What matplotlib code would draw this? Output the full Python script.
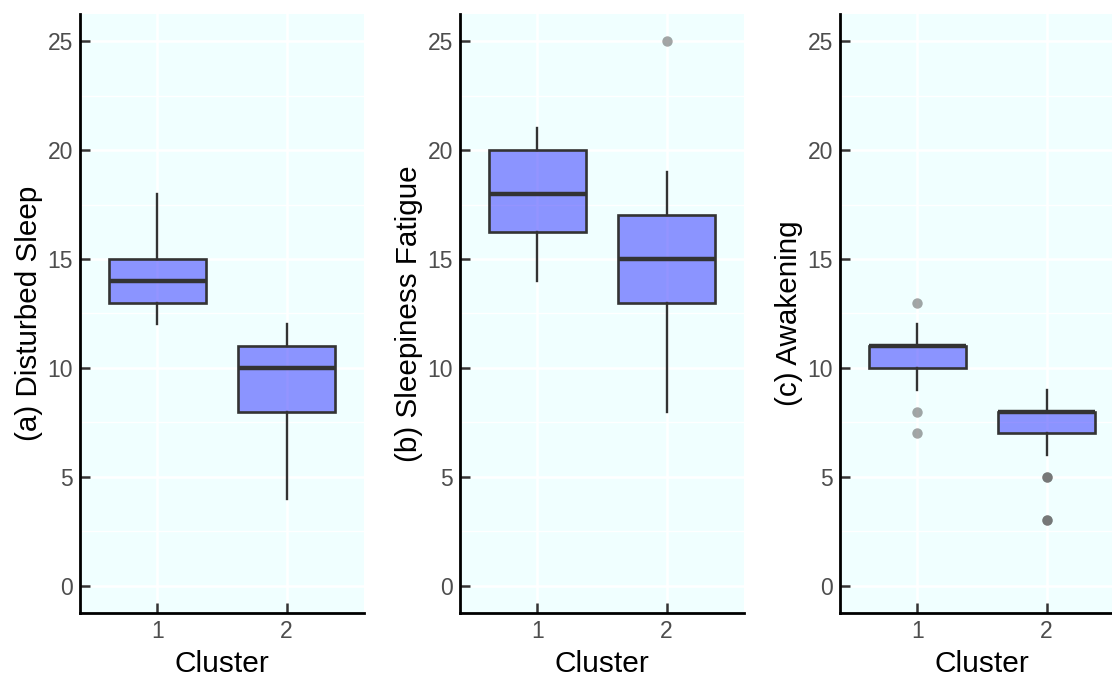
import matplotlib
matplotlib.use("Agg")
import matplotlib.pyplot as plt
from matplotlib.ticker import MultipleLocator

plt.rcParams['font.family'] = ['Liberation Sans', 'DejaVu Sans']

# box statistics: (whislo, q1, med, q3, whishi)
clusters = [1, 2]
labels = ["(a) Disturbed Sleep", "(b) Sleepiness Fatigue", "(c) Awakening"]

sleep_stats = [(12, 13, 14, 15, 18), (4, 8, 10, 11, 12)]
sleep_out = [[], []]

fatigue_stats = [(14, 16.25, 18, 20, 21), (8, 13, 15, 17, 19)]
fatigue_out = [[], [25]]

awake_stats = [(9, 10, 11, 11, 12), (6, 7, 8, 8, 9)]
awake_out = [[13, 8, 7], [5, 5, 3, 3]]

panels = [(sleep_stats, sleep_out), (fatigue_stats, fatigue_out), (awake_stats, awake_out)]

fig = plt.figure(figsize=(11.12, 6.77), dpi=100)
lefts = [80, 460, 840]
W, H = 1112, 677

for i, (stats, outs) in enumerate(panels):
    ax = fig.add_axes([lefts[i] / W, 64 / H, 284 / W, 599 / H])
    ax.set_facecolor('#F0FFFF')
    bxp = []
    for c, s, o in zip(clusters, stats, outs):
        bxp.append(dict(whislo=s[0], q1=s[1], med=s[2], q3=s[3], whishi=s[4], fliers=o, label=str(c)))
    ax.bxp(bxp, positions=clusters, widths=0.75, patch_artist=True,
           boxprops=dict(facecolor=(0, 0, 1, 0.42), edgecolor='#333333', linewidth=1.9),
           medianprops=dict(color='#333333', linewidth=3.2, solid_capstyle='butt'),
           whiskerprops=dict(color='#333333', linewidth=1.7),
           capprops=dict(linewidth=0),
           flierprops=dict(marker='o', markerfacecolor='#4d4d4d', markeredgecolor='none',
                           markersize=7.5, alpha=0.5),
           zorder=3)
    ax.set_xlim(0.4, 2.6)
    ax.set_ylim(-1.25, 26.25)
    ax.yaxis.set_major_locator(MultipleLocator(5))
    ax.yaxis.set_minor_locator(MultipleLocator(2.5))
    ax.set_axisbelow(True)
    ax.grid(True, which='major', color='white', linewidth=1.8)
    ax.grid(True, which='minor', axis='y', color='white', linewidth=1.0)
    for side in ['top', 'right']:
        ax.spines[side].set_visible(False)
    for side in ['left', 'bottom']:
        ax.spines[side].set_linewidth(2)
        ax.spines[side].set_color('black')
    ax.tick_params(which='major', direction='in', length=7, width=1.8, color='#333333',
                   labelsize=16.5, labelcolor='#4d4d4d', pad=5)
    ax.tick_params(which='minor', length=0)
    ax.set_xlabel('Cluster', fontsize=21.5, color='black', labelpad=5)
    ax.set_ylabel(labels[i], fontsize=21.3, color='black', labelpad=3)

fig.savefig('out.png', dpi=100)
